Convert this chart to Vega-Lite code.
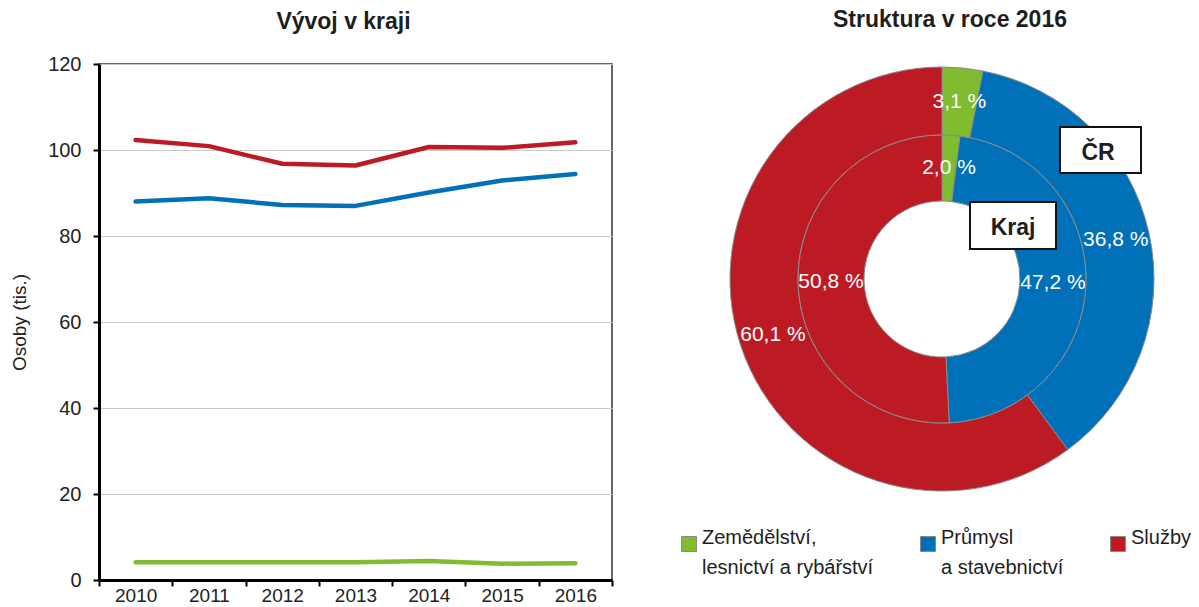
{
  "$schema": "https://vega.github.io/schema/vega-lite/v6.json",
  "padding": {"left": 9, "top": 9, "right": 0, "bottom": 0},
  "background": "white",
  "config": {
    "font": "Liberation Sans",
    "title": {"fontSize": 23, "fontWeight": "bold", "color": "#1e1e1e", "font": "Liberation Sans", "baseline": "alphabetic", "frame": "group"},
    "concat": {"spacing": 69},
    "text": {"font": "Liberation Sans"},
    "style": {"guide-label": {"lineHeight": 30}}
  },
  "datasets": {
    "lines": [
      {"year": 2010, "sector": "Služby", "value": 102.3},
      {"year": 2011, "sector": "Služby", "value": 100.9},
      {"year": 2012, "sector": "Služby", "value": 96.8},
      {"year": 2013, "sector": "Služby", "value": 96.4},
      {"year": 2014, "sector": "Služby", "value": 100.7},
      {"year": 2015, "sector": "Služby", "value": 100.5},
      {"year": 2016, "sector": "Služby", "value": 101.8},
      {"year": 2010, "sector": "Průmysl|a stavebnictví", "value": 88.0},
      {"year": 2011, "sector": "Průmysl|a stavebnictví", "value": 88.8},
      {"year": 2012, "sector": "Průmysl|a stavebnictví", "value": 87.2},
      {"year": 2013, "sector": "Průmysl|a stavebnictví", "value": 87.0},
      {"year": 2014, "sector": "Průmysl|a stavebnictví", "value": 90.1},
      {"year": 2015, "sector": "Průmysl|a stavebnictví", "value": 92.9},
      {"year": 2016, "sector": "Průmysl|a stavebnictví", "value": 94.4},
      {"year": 2010, "sector": "Zemědělství,|lesnictví a rybářství", "value": 4.1},
      {"year": 2011, "sector": "Zemědělství,|lesnictví a rybářství", "value": 4.1},
      {"year": 2012, "sector": "Zemědělství,|lesnictví a rybářství", "value": 4.1},
      {"year": 2013, "sector": "Zemědělství,|lesnictví a rybářství", "value": 4.1},
      {"year": 2014, "sector": "Zemědělství,|lesnictví a rybářství", "value": 4.4},
      {"year": 2015, "sector": "Zemědělství,|lesnictví a rybářství", "value": 3.8},
      {"year": 2016, "sector": "Zemědělství,|lesnictví a rybářství", "value": 3.9}
    ],
    "pie": [
      {"ring": "ČR", "sector": "Zemědělství,|lesnictví a rybářství", "o": 1, "value": 3.1, "label": "3,1 %"},
      {"ring": "ČR", "sector": "Průmysl|a stavebnictví", "o": 2, "value": 36.8, "label": "36,8 %"},
      {"ring": "ČR", "sector": "Služby", "o": 3, "value": 60.1, "label": "60,1 %"},
      {"ring": "Kraj", "sector": "Zemědělství,|lesnictví a rybářství", "o": 1, "value": 2.0, "label": "2,0 %"},
      {"ring": "Kraj", "sector": "Průmysl|a stavebnictví", "o": 2, "value": 47.2, "label": "47,2 %"},
      {"ring": "Kraj", "sector": "Služby", "o": 3, "value": 50.8, "label": "50,8 %"}
    ]
  },
  "resolve": {"scale": {"color": "independent"}},
  "hconcat": [
    {
      "width": 513,
      "height": 516,
      "title": {"text": "Vývoj v kraji", "offset": 20, "dx": -12},
      "view": {"stroke": "#333333", "strokeWidth": 1.5},
      "data": {"name": "lines"},
      "mark": {"type": "line", "strokeWidth": 4.5, "strokeCap": "round", "strokeJoin": "round"},
      "encoding": {
        "x": {
          "field": "year", "type": "ordinal", "bandPosition": 0.5,
          "scale": {"type": "band", "paddingInner": 0, "paddingOuter": 0},
          "axis": {"title": null, "labelAngle": 0, "tickBand": "extent", "grid": false,
                   "labelFontSize": 19, "labelColor": "#222222", "labelPadding": 0,
                   "tickSize": 6, "tickColor": "#000000", "tickWidth": 2,
                   "domainColor": "#000000", "domainWidth": 3}
        },
        "y": {
          "field": "value", "type": "quantitative",
          "scale": {"domain": [0, 120], "nice": false},
          "axis": {"title": "Osoby (tis.)", "values": [0, 20, 40, 60, 80, 100, 120],
                   "labelFontSize": 20, "labelColor": "#222222", "labelPadding": 12,
                   "tickSize": 6, "tickColor": "#000000", "tickWidth": 2,
                   "domainColor": "#000000", "domainWidth": 3,
                   "gridColor": "#c8c8c8", "gridWidth": 1,
                   "titleFontSize": 19, "titleFontWeight": "normal", "titleColor": "#222222", "titlePadding": 18}
        },
        "color": {
          "field": "sector", "type": "nominal",
          "scale": {"domain": ["Zemědělství,|lesnictví a rybářství", "Průmysl|a stavebnictví", "Služby"],
                    "range": ["#80bc2f", "#0070b9", "#bd1b24"]},
          "legend": null
        }
      }
    },
    {
      "width": 518,
      "height": 430,
      "title": {"text": "Struktura v roce 2016", "offset": 32, "dx": 8},
      "view": {"stroke": null},
      "data": {"name": "pie"},
      "layer": [
        {
          "transform": [{"filter": "datum.ring === 'ČR'"}],
          "mark": {"type": "arc", "innerRadius": 144, "outerRadius": 212, "stroke": "#8a8a8a", "strokeWidth": 1},
          "encoding": {
            "theta": {"field": "value", "type": "quantitative", "stack": true},
            "order": {"field": "o", "type": "quantitative"},
            "color": {
              "field": "sector", "type": "nominal",
              "scale": {"domain": ["Zemědělství,|lesnictví a rybářství", "Průmysl|a stavebnictví", "Služby"],
                        "range": ["#80bc2f", "#0070b9", "#bd1b24"]},
              "legend": {"orient": "bottom", "direction": "horizontal", "title": null,
                         "labelFontSize": 20, "labelLimit": 400, "labelColor": "#1e1e1e",
                         "labelExpr": "indexof(datum.label, '|') >= 0 ? split(datum.label, '|') : [datum.label, ' ']",
                         "labelBaseline": "alphabetic",
                         "symbolType": "square", "symbolSize": 225, "symbolStrokeColor": "#888888",
                         "symbolStrokeWidth": 1, "symbolOpacity": 1,
                         "columnPadding": 44, "labelOffset": 3, "offset": 44, "padding": -4}
            }
          }
        },
        {
          "transform": [{"filter": "datum.ring === 'ČR'"}],
          "mark": {"type": "text", "radius": 178, "fontSize": 21, "color": "#ffffff"},
          "encoding": {
            "theta": {"field": "value", "type": "quantitative", "stack": true},
            "order": {"field": "o", "type": "quantitative"},
            "detail": {"field": "sector", "type": "nominal"},
            "text": {"field": "label", "type": "nominal"}
          }
        },
        {
          "transform": [{"filter": "datum.ring === 'Kraj'"}],
          "mark": {"type": "arc", "innerRadius": 78, "outerRadius": 144, "stroke": "#8a8a8a", "strokeWidth": 1},
          "encoding": {
            "theta": {"field": "value", "type": "quantitative", "stack": true},
            "order": {"field": "o", "type": "quantitative"},
            "color": {"field": "sector", "type": "nominal"}
          }
        },
        {
          "transform": [{"filter": "datum.ring === 'Kraj'"}],
          "mark": {"type": "text", "radius": 111, "fontSize": 21, "color": "#ffffff"},
          "encoding": {
            "theta": {"field": "value", "type": "quantitative", "stack": true},
            "order": {"field": "o", "type": "quantitative"},
            "detail": {"field": "sector", "type": "nominal"},
            "text": {"field": "label", "type": "nominal"}
          }
        },
        {
          "data": {"values": [{"ring": "ČR"}]},
          "mark": {"type": "rect", "fill": "#ffffff", "stroke": "#111111", "strokeWidth": 2},
          "encoding": {
            "x": {"datum": 118, "type": "quantitative", "scale": {"domain": [-259, 259], "nice": false, "zero": false}, "axis": null},
            "x2": {"datum": 199},
            "y": {"datum": 106, "type": "quantitative", "scale": {"domain": [-215, 215], "nice": false, "zero": false}, "axis": null},
            "y2": {"datum": 152}
          }
        },
        {
          "data": {"values": [{"ring": "Kraj"}]},
          "mark": {"type": "rect", "fill": "#ffffff", "stroke": "#111111", "strokeWidth": 2},
          "encoding": {
            "x": {"datum": 28, "type": "quantitative"},
            "x2": {"datum": 114},
            "y": {"datum": 30, "type": "quantitative"},
            "y2": {"datum": 77}
          }
        },
        {
          "data": {"values": [{"ring": "ČR", "tx": 156, "ty": 119}, {"ring": "Kraj", "tx": 71, "ty": 44}]},
          "mark": {"type": "text", "fontSize": 23, "fontWeight": "bold", "color": "#1e1e1e", "baseline": "alphabetic", "align": "center"},
          "encoding": {
            "x": {"field": "tx", "type": "quantitative"},
            "y": {"field": "ty", "type": "quantitative"},
            "text": {"field": "ring", "type": "nominal"}
          }
        }
      ]
    }
  ]
}
